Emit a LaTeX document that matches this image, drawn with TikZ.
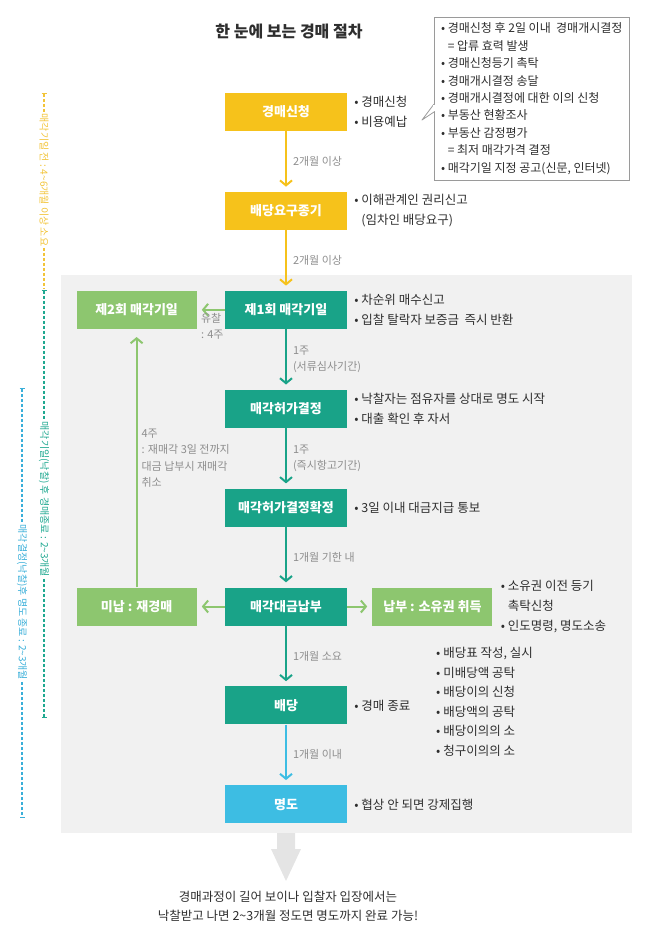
\documentclass[tikz,border=0pt]{standalone}
\usepackage{fontspec}
\setmainfont{Noto Sans CJK KR}
\usetikzlibrary{
    arrows.meta,
    positioning,
    calc
}

\definecolor{auctionyellow}{HTML}{F6C21B}
\definecolor{stageteal}{HTML}{19A388}
\definecolor{sidegreen}{HTML}{8DC66F}
\definecolor{deliveryblue}{HTML}{3DBDE3}
\definecolor{panelgray}{HTML}{F1F1F1}
\definecolor{labelgray}{HTML}{8E8E8E}
\definecolor{textdark}{HTML}{2E2E2E}
\definecolor{calloutgray}{HTML}{9A9A9A}
\definecolor{bigarrowgray}{HTML}{E4E4E4}
\definecolor{dimyellow}{HTML}{F2C43A}
\definecolor{dimteal}{HTML}{1FA890}
\definecolor{dimblue}{HTML}{3AAFD9}

\newcommand{\itm}{\textbullet\ }
\newcommand{\contd}{\phantom{\textbullet\ }}

\begin{document}
\begin{tikzpicture}[
        x=1pt, y=-1pt,
        node distance=60.5pt and 28pt,
        every node/.style={font=\fontsize{12.5}{20}\selectfont, text=textdark},
        stage/.style={
            rectangle,
            fill=stageteal,
            minimum width=122pt,
            minimum height=38pt,
            inner sep=0pt,
            font=\fontsize{13}{15}\selectfont\bfseries,
            text=white
        },
        side/.style={stage, fill=sidegreen, minimum width=120pt},
        notes/.style={align=left, inner sep=0pt},
        lbl/.style={font=\fontsize{11}{16.5}\selectfont, text=labelgray, align=left, inner sep=0pt},
        callout/.style={
            rectangle,
            draw=calloutgray,
            fill=white,
            line width=0.8pt,
            outer sep=0pt,
            inner xsep=7pt,
            inner ysep=6pt,
            align=left,
            font=\fontsize{12}{17.4}\selectfont
        },
        dimtext/.style={rotate=-90, inner sep=1.5pt, font=\fontsize{10}{12}\selectfont},
        dimline/.style={line width=1.1pt, dash pattern=on 3pt off 2pt},
        dimend/.style={{Bar[width=5pt,line width=1pt]}-},
        flow/.style={-{Straight Barb[length=5pt,width=12pt,line width=2pt]}, line width=2pt, shorten >=5pt},
        flowy/.style={flow, draw=auctionyellow},
        flowt/.style={flow, draw=stageteal},
        flowg/.style={flow, draw=sidegreen},
        flowb/.style={flow, draw=deliveryblue}
    ]
        \useasboundingbox (0,0) rectangle (658,948);

        % grey panel behind the sale steps
        \fill[panelgray] (61,275) rectangle (632,833);

        \node[font=\fontsize{16}{18}\selectfont\bfseries] (title) at (289,31) {한 눈에 보는 경매 절차};

        % main column
        \node[stage, fill=auctionyellow] (apply) at (286,112) {경매신청};
        \node[stage, fill=auctionyellow, below=of apply] (claim) {배당요구종기};
        \node[stage, below=of claim] (sale1) {제1회 매각기일};
        \node[stage, below=of sale1] (permit) {매각허가결정};
        \node[stage, below=of permit] (confirm) {매각허가결정확정};
        \node[stage, below=of confirm] (payment) {매각대금납부};
        \node[stage, below=of payment] (dividend) {배당};
        \node[stage, fill=deliveryblue, below=of dividend] (eviction) {명도};

        % side boxes
        \node[side, left=of sale1] (sale2) {제2회 매각기일};
        \node[side, left=of payment] (resale) {미납 : 재경매};
        \node[side, right=25pt of payment] (owner) {납부 : 소유권 취득};

        % notes
        \node[notes, right=7pt of apply] (applynote) {\itm 경매신청\\\itm 비용예납};
        \node[notes, right=7pt of claim] (claimnote) {\itm 이해관계인 권리신고\\\contd(임차인 배당요구)};
        \node[notes, right=7pt of sale1] (sale1note) {\itm 차순위 매수신고\\\itm 입찰 탈락자 보증금\ \ 즉시 반환};
        \node[notes, right=7pt of permit] (permitnote) {\itm 낙찰자는 점유자를 상대로 명도 시작\\\itm 대출 확인 후 자서};
        \node[notes, right=7pt of confirm] (confirmnote) {\itm 3일 이내 대금지급 통보};
        \node[notes, right=8pt of owner] (ownernote) {\itm 소유권 이전 등기\\\contd 촉탁신청\\\itm 인도명령, 명도소송};
        \node[notes, right=7pt of dividend] (dividendnote) {\itm 경매 종료};
        \node[notes, anchor=west, font=\fontsize{12.5}{19.5}\selectfont] (dividendlist) at (436,702)
            {\itm 배당표 작성, 실시\\\itm 미배당액 공탁\\\itm 배당이의 신청\\\itm 배당액의 공탁\\\itm 배당이의의 소\\\itm 청구이의의 소};
        \node[notes, right=7pt of eviction] (evictionnote) {\itm 협상 안 되면 강제집행};

        % callout with the steps after the application
        \node[callout, anchor=north west] (steps) at (434,17)
            {\itm 경매신청 후 2일 이내\ \ 경매개시결정\\
             \contd= 압류 효력 발생\\
             \itm 경매신청등기 촉탁\\
             \itm 경매개시결정 송달\\
             \itm 경매개시결정에 대한 이의 신청\\
             \itm 부동산 현황조사\\
             \itm 부동산 감정평가\\
             \contd= 최저 매각가격 결정\\
             \itm 매각기일 지정 공고(신문, 인터넷)};
        \draw[calloutgray, line width=0.8pt, fill=white, line join=round]
            (steps.west |- 0,104) -- (422,120) -- (steps.west |- 0,112);
        \draw[white, line width=1.2pt] (steps.west |- 0,104.8) -- (steps.west |- 0,111.2);

        % main flow
        \draw[flowy] (apply) -- node[lbl, right=6pt] {2개월 이상} (claim);
        \draw[flowy] (claim) -- node[lbl, right=6pt] {2개월 이상} (sale1);
        \draw[flowt] (sale1) -- node[lbl, right=6pt] {1주\\(서류심사기간)} (permit);
        \draw[flowt] (permit) -- node[lbl, right=6pt] {1주\\(즉시항고기간)} (confirm);
        \draw[flowt] (confirm) -- node[lbl, right=6pt] {1개월 기한 내} (payment);
        \draw[flowt] (payment) -- node[lbl, right=6pt] {1개월 소요} (dividend);
        \draw[flowb] (dividend) -- node[lbl, right=6pt] {1개월 이내} (eviction);

        % side flow
        \draw[flowg] (sale1) -- (sale2);
        \node[lbl, below right=3pt and 4pt of sale2.east] (failnote) {유찰\\: 4주};
        \draw[flowg] (payment) -- (resale);
        \draw[flowg] (payment) -- (owner);
        \draw[flowg, shorten >=8pt] (resale) -- node[lbl, right=4pt] {4주\\: 재매각 3일 전까지\\대금 납부시 재매각\\취소} (sale2);

        % time spans on the left
        \coordinate (ytop) at (44,93);
        \coordinate (ybot) at (44,288);
        \node[dimtext, text=dimyellow, anchor=west] (ylab) at (44,112) {매각기일 전 : 4\textasciitilde 6개월 이상 소요};
        \draw[dimline, draw=dimyellow, dimend] (ytop) -- (ylab.west);
        \draw[dimline, draw=dimyellow] (ylab.east) -- (ybot);

        \coordinate (ttop) at (44,290);
        \coordinate (tbot) at (44,718);
        \node[dimtext, text=dimteal, anchor=west] (tlab) at (44,420) {매각기일(낙찰) 후 경매종료 : 2\textasciitilde 3개월};
        \draw[dimline, draw=dimteal, dimend] (ttop) -- (tlab.west);
        \draw[dimline, draw=dimteal, -{Bar[width=5pt,line width=1pt]}] (tlab.east) -- (tbot);

        \coordinate (btop) at (22,388);
        \coordinate (bbot) at (22,818);
        \node[dimtext, text=dimblue, anchor=west] (blab) at (22,523) {매각결정(낙찰)후 명도 종료 : 2\textasciitilde 3개월};
        \draw[dimline, draw=dimblue, dimend] (btop) -- (blab.west);
        \draw[dimline, draw=dimblue, -{Bar[width=5pt,line width=1pt]}] (blab.east) -- (bbot);

        % closing remark
        \fill[bigarrowgray] (277,833) -- (295,833) -- (295,849) -- (301,849) -- (286,881) -- (271,849) -- (277,849) -- cycle;
        \node[align=center, font=\fontsize{12.5}{19}\selectfont] (summary) at (288,906)
            {경매과정이 길어 보이나 입찰자 입장에서는\\낙찰받고 나면 2\textasciitilde 3개월 정도면 명도까지 완료 가능!};
    \end{tikzpicture}
\end{document}
